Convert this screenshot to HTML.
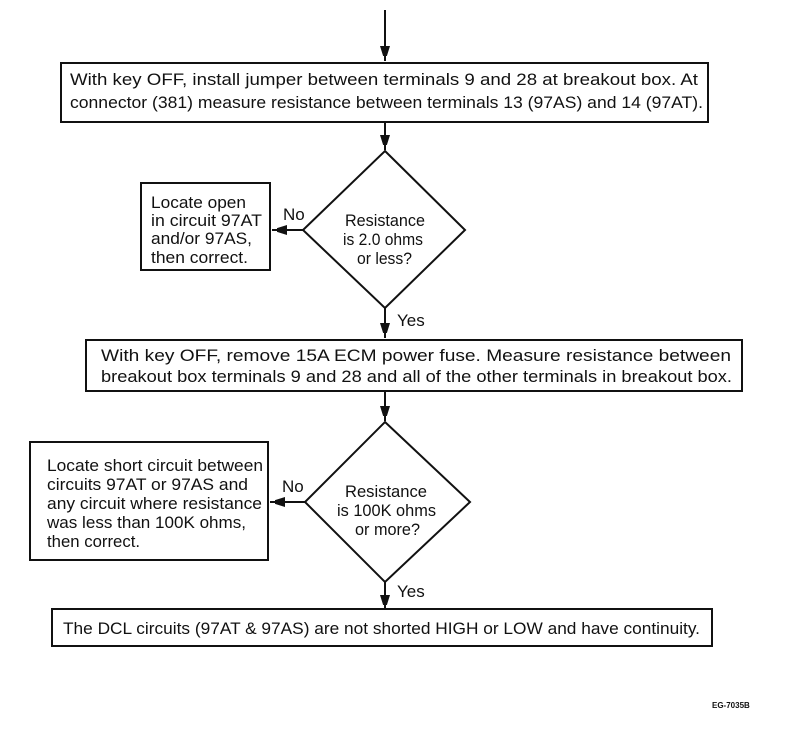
<!DOCTYPE html>
<html><head><style>
body{margin:0;background:#fff;}
</style></head><body>
<svg width="800" height="727" viewBox="0 0 800 727" xmlns="http://www.w3.org/2000/svg" font-family="Liberation Sans, Arial, Helvetica, sans-serif">
<defs><marker id="a" markerWidth="10" markerHeight="16" refX="15" refY="5" orient="auto" markerUnits="userSpaceOnUse"><path d="M0,0 L16,5 L0,10 z" fill="#111"/></marker></defs>
<g stroke="#111" stroke-width="2" fill="none">
<line x1="385" y1="10" x2="385" y2="61" marker-end="url(#a)"/>
<rect x="61" y="63" width="647" height="59" fill="#fff"/>
<line x1="385" y1="122" x2="385" y2="150" marker-end="url(#a)"/>
<polygon points="385,151 465,230 385,308 303,230" fill="#fff"/>
<rect x="141" y="183" width="129" height="87" fill="#fff"/>
<line x1="303" y1="230" x2="272" y2="230" marker-end="url(#a)"/>
<line x1="385" y1="308" x2="385" y2="338" marker-end="url(#a)"/>
<rect x="86" y="340" width="656" height="51" fill="#fff"/>
<line x1="385" y1="391" x2="385" y2="421" marker-end="url(#a)"/>
<polygon points="385,422 470,502 385,582 305,502" fill="#fff"/>
<rect x="30" y="442" width="238" height="118" fill="#fff"/>
<line x1="305" y1="502" x2="270" y2="502" marker-end="url(#a)"/>
<line x1="385" y1="582" x2="385" y2="610" marker-end="url(#a)"/>
<rect x="52" y="609" width="660" height="37" fill="#fff"/>
</g>
<g font-size="17" fill="#111">
<text x="70" y="85" textLength="628" lengthAdjust="spacingAndGlyphs">With key OFF, install jumper between terminals 9 and 28 at breakout box. At</text>
<text x="70" y="108" textLength="633" lengthAdjust="spacingAndGlyphs">connector (381) measure resistance between terminals 13 (97AS) and 14 (97AT).</text>
<text x="151" y="208" textLength="95" lengthAdjust="spacingAndGlyphs">Locate open</text>
<text x="151" y="226" textLength="111" lengthAdjust="spacingAndGlyphs">in circuit 97AT</text>
<text x="151" y="244" textLength="101" lengthAdjust="spacingAndGlyphs">and/or 97AS,</text>
<text x="151" y="263" textLength="97" lengthAdjust="spacingAndGlyphs">then correct.</text>
<text x="283" y="220">No</text>
<text x="345" y="226" textLength="80" lengthAdjust="spacingAndGlyphs">Resistance</text>
<text x="343" y="245" textLength="80" lengthAdjust="spacingAndGlyphs">is 2.0 ohms</text>
<text x="357" y="264" textLength="55" lengthAdjust="spacingAndGlyphs">or less?</text>
<text x="397" y="326">Yes</text>
<text x="101" y="361" textLength="630" lengthAdjust="spacingAndGlyphs">With key OFF, remove 15A ECM power fuse. Measure resistance between</text>
<text x="101" y="382" textLength="631" lengthAdjust="spacingAndGlyphs">breakout box terminals 9 and 28 and all of the other terminals in breakout box.</text>
<text x="47" y="471" textLength="216" lengthAdjust="spacingAndGlyphs">Locate short circuit between</text>
<text x="47" y="490" textLength="201" lengthAdjust="spacingAndGlyphs">circuits 97AT or 97AS and</text>
<text x="47" y="509" textLength="215" lengthAdjust="spacingAndGlyphs">any circuit where resistance</text>
<text x="47" y="528" textLength="199" lengthAdjust="spacingAndGlyphs">was less than 100K ohms,</text>
<text x="47" y="547" textLength="93" lengthAdjust="spacingAndGlyphs">then correct.</text>
<text x="282" y="492">No</text>
<text x="345" y="497" textLength="82" lengthAdjust="spacingAndGlyphs">Resistance</text>
<text x="337" y="516" textLength="99" lengthAdjust="spacingAndGlyphs">is 100K ohms</text>
<text x="355" y="535" textLength="65" lengthAdjust="spacingAndGlyphs">or more?</text>
<text x="397" y="597">Yes</text>
<text x="63" y="634" textLength="637" lengthAdjust="spacingAndGlyphs">The DCL circuits (97AT &amp; 97AS) are not shorted HIGH or LOW and have continuity.</text>
</g>
<text x="712" y="708" font-size="8" font-weight="bold" fill="#111">EG-7035B</text>
</svg>
</body></html>
